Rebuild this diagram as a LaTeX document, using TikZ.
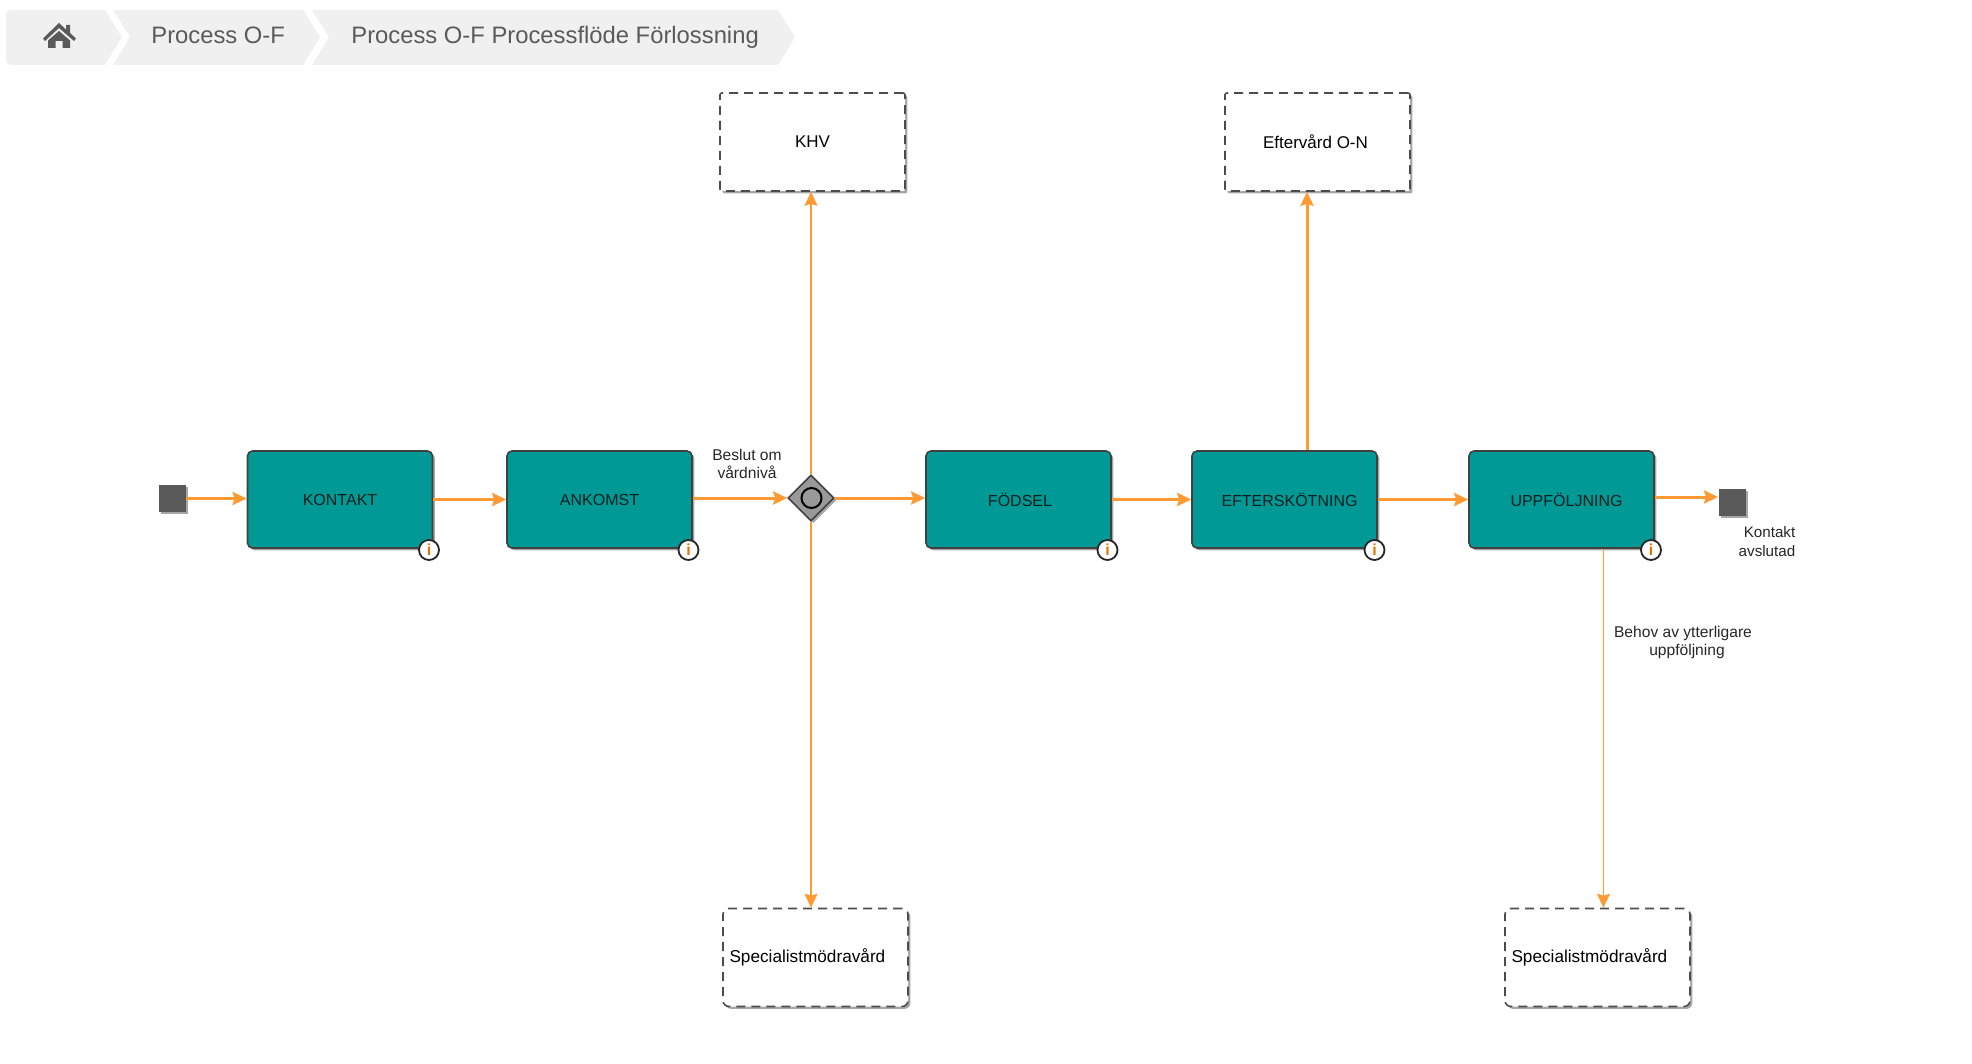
\documentclass[tikz,border=0pt]{standalone}
\usepackage{fontspec}
\setmainfont{Liberation Sans}
\usetikzlibrary{arrows.meta,shapes.geometric,shadows}
\definecolor{teal}{HTML}{009995}
\definecolor{flow}{HTML}{FF9A33}
\definecolor{crumb}{HTML}{F0F0F0}
\definecolor{crumbtext}{HTML}{5A5A5A}
\definecolor{endgray}{HTML}{595959}

\begin{document}
\begin{tikzpicture}[>={Stealth[length=7pt,width=6.5pt,inset=1pt]},x=.5pt,y=-.5pt]
	\tikzset{
	%Define style for boxes
	shade/.style={
		drop shadow={shadow xshift=1.2pt,shadow yshift=-1.2pt,opacity=.35,fill=black}},
	stepbox/.style={
		rectangle,
		rounded corners=2.5pt,
		draw=black!75, line width=.8pt,
		fill=teal,
		minimum width=92.5pt,
		minimum height=48.5pt,
		inner sep=0pt,
		text=black!80!teal,
		font=\fontsize{8}{10}\selectfont,
		shade},
	linkbox/.style={
		rectangle,
		rounded corners=1pt,
		draw=black!70, line width=.8pt,
		dash pattern=on 4.5pt off 3pt,
		fill=white,
		minimum width=92.5pt,
		minimum height=49pt,
		inner sep=0pt,
		font=\fontsize{8.5}{10}\selectfont,
		shade},
	specbox/.style={
		linkbox,
		rounded corners=3pt,
		text width=86pt,
		align=flush left,
		font=\fontsize{8.6}{10}\selectfont},
	endbox/.style={
		rectangle,
		fill=endgray,
		minimum size=13.5pt,
		inner sep=0pt,
		shade},
	infomark/.style={
		circle,
		draw=black!85, line width=.9pt,
		fill=white,
		minimum size=10pt,
		inner sep=0pt,
		text=orange!90!black,
		font=\fontsize{8}{8}\selectfont\bfseries},
	note/.style={
		align=center,
		inner sep=0pt,
		text=black!85,
		font=\fontsize{7.8}{9.1}\selectfont},
	crumbtxt/.style={
		inner sep=0pt,
		anchor=base west,
		text=crumbtext,
		font=\fontsize{11.9}{14}\selectfont},
	% Define arrow style
	pil/.style={
		->,
		draw=flow,
		line width=1.5pt},
	pilthin/.style={
		->,
		draw=flow,
		line width=.8pt}
}

	\useasboundingbox (0,0) rectangle (1972,1064);

	%breadcrumb
	\fill[crumb] (10,10) -- (105,10) -- (122,37) -- (105,65) -- (10,65) to[bend left=20] (6,61) -- (6,14) to[bend left=20] cycle;
	\fill[crumb] (113,10) -- (303,10) -- (320,37) -- (303,65) -- (113,65) -- (130,37) -- cycle;
	\fill[crumb] (312,10) -- (778,10) -- (795,37) -- (778,65) -- (312,65) -- (329,37) -- cycle;
	\fill[crumbtext] (59,23) -- (66,29.5) -- (66,25) -- (70,25) -- (70,33) -- (76,38.5) -- (74,41) -- (59,28) -- (45,41) -- (43,38.5) -- cycle;
	\fill[crumbtext] (59,31) -- (70,40.5) -- (70,48) -- (62.5,48) -- (62.5,41) -- (55.5,41) -- (55.5,48) -- (48,48) -- (48,40.5) -- cycle;
	\node[crumbtxt] (crumbone) at (151,43.5) {Process O-F};
	\node[crumbtxt] (crumbtwo) at (351,43.5) {Process O-F Processflöde Förlossning};

	%main row
	\node[endbox] (start) at (172.5,498.5) {};
	\node[stepbox] (kontakt) at (340,499.5) {KONTAKT};
	\node[stepbox] (ankomst) at (599.5,499.5) {ANKOMST};
	\node[diamond,draw=black!75,line width=.8pt,fill=black!40,minimum size=23pt,inner sep=0pt,shade] (beslut) at (811,498) {};
	\node[circle,draw=black,line width=1pt,fill=black!40,minimum size=10pt,inner sep=0pt] (beslutring) at (811.5,498) {};
	\node[stepbox] (fodsel) at (1018.5,499.5) {\hspace*{1.5pt}FÖDSEL};
	\node[stepbox] (efterskotning) at (1284.5,499.5) {\hspace*{5pt}EFTERSKÖTNING};
	\node[stepbox] (uppfoljning) at (1561.5,499.5) {\hspace*{5pt}UPPFÖLJNING};
	\node[endbox] (slut) at (1732,502) {};

	%info marks
	\node[infomark] (infokontakt) at (429,550) {i};
	\node[infomark] (infoankomst) at (688.5,550) {i};
	\node[infomark] (infofodsel) at (1107.5,550) {i};
	\node[infomark] (infoefter) at (1374.5,550) {i};
	\node[infomark] (infoupp) at (1651,550) {i};

	%boxes outside the row
	\node[linkbox] (khv) at (812.5,142) {KHV};
	\node[linkbox] (eftervard) at (1317.5,142) {\hspace*{-1pt}Eftervård O-N\hspace*{1pt}};
	\node[specbox] (specone) at (815.5,957.5) {Specialistmödravård};
	\node[specbox] (spectwo) at (1597.5,957.5) {Specialistmödravård};

	%labels
	\node[note] (beslutnote) at (747,464) {Beslut om\\vårdnivå};
	\node[note,align=right,font=\fontsize{7.6}{9.1}\selectfont] (slutnote) at (1767,541.5) {Kontakt\\avslutad};
	\node[note] (behovnote) at (1683,642.5) {Behov av ytterligare\\\hspace*{4pt}uppföljning};

	%row arrows
	\draw[pil] (start.east) -- (kontakt.west |- start.east);
	\draw[pil] (kontakt.east) -- (ankomst.west);
	\draw[pil] (ankomst.east |- beslut.west) -- (beslut.west);
	\draw[pil] (beslut.east) -- (fodsel.west |- beslut.east);
	\draw[pil] (fodsel.east) -- (efterskotning.west);
	\draw[pil] (efterskotning.east) -- (uppfoljning.west);
	\draw[pil] ([yshift=2.5pt]slut.west -| uppfoljning.east) -- ([yshift=2.5pt]slut.west);
	%arrows up and down
	\draw[pilthin] (beslut.north) -- (khv.south -| beslut.north);
	\draw[pilthin] (beslut.south) -- (specone.north -| beslut.south);
	\draw[pil] ([xshift=11.25pt]efterskotning.north) -- ([xshift=-5.25pt]eftervard.south);
	\draw[pilthin] ([xshift=3pt]spectwo.north |- uppfoljning.south) -- ([xshift=3pt]spectwo.north);
\end{tikzpicture}
\end{document}
